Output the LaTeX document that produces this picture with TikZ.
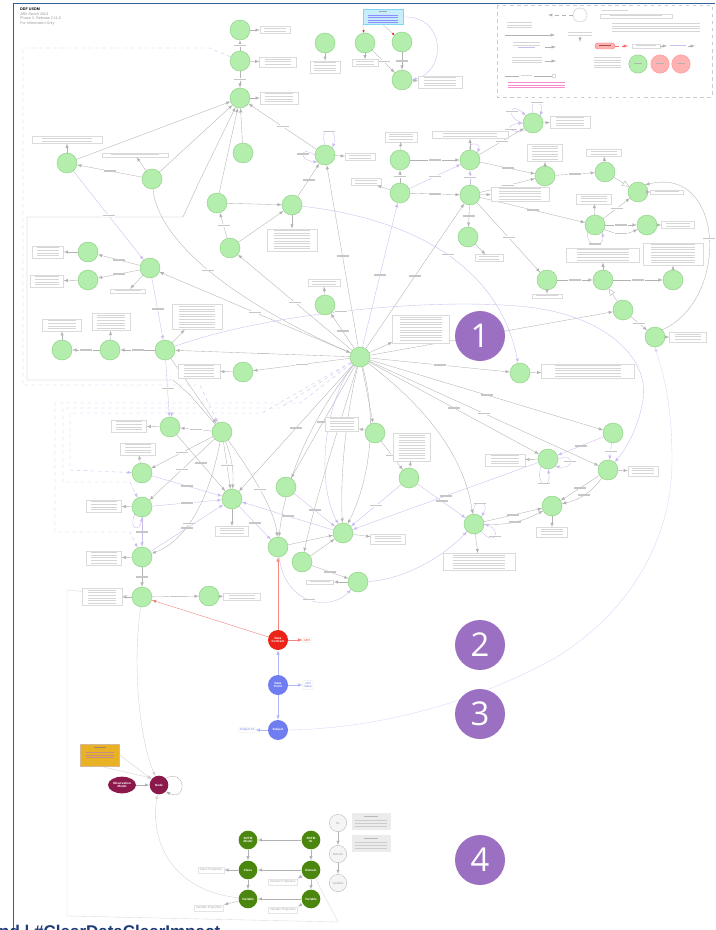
\documentclass[tikz,border=0pt]{standalone}
\usepackage{fontspec}
\setmainfont{Liberation Sans}
\newfontfamily\zahlfont{Open Sans}
\usetikzlibrary{calc,arrows,arrows.meta,shapes.geometric}

\definecolor{gruen}{RGB}{180,238,172}
\definecolor{gruenrand}{RGB}{125,200,115}
\definecolor{lilalinie}{RGB}{203,188,240}
\definecolor{zahllila}{RGB}{155,112,194}
\definecolor{rahmenblau}{RGB}{50,95,150}
\definecolor{vertragrot}{RGB}{235,35,25}
\definecolor{punktblau}{RGB}{112,125,240}
\definecolor{weinrot}{RGB}{140,25,75}
\definecolor{sdtmgruen}{RGB}{75,135,15}
\definecolor{gelb}{RGB}{233,177,36}
\definecolor{slogan}{RGB}{30,60,120}

\pgfdeclarelayer{hinten}
\pgfsetlayers{hinten,main}

% Notiz: Name, x, y, Breite, Zeilen
\newcommand{\notiz}[5]{%
  \node[notiz, minimum width=#4*0.03cm, minimum height={(#5*2.6+1.6)*0.03cm}] (#1) at (#2,#3) {};
  \foreach \zz in {1,...,#5}
    \fill[gray!32] ($(#1.north)+(-#4*0.36,\zz*2.6-1.0)$) rectangle ++(#4*0.72,1);
}

\begin{document}
\begin{tikzpicture}
		[
		x=0.03cm, y=-0.03cm, >=latex,
		%Voreinstellungen
		knoten/.style={circle, draw=gruenrand, fill=gruen, line width=0.3pt, minimum size=0.6cm, inner sep=0pt},
		notiz/.style={draw=gray!28, fill=white, line width=0.2pt, inner sep=0pt},
		etikett/.style={fill=white, inner sep=0.5pt, execute at begin node={\textcolor{gray!45}{\rule{0.36cm}{0.035cm}}}},
		kante/.style={draw=gray!60, line width=0.3pt, -latex},
		lila/.style={draw=lilalinie, line width=0.3pt, -latex},
		rotlinie/.style={draw=vertragrot!55, line width=0.35pt, -latex},
		blaulinie/.style={draw=punktblau!55, line width=0.35pt, -latex},
		zahl/.style={circle, fill=zahllila, text=white, minimum size=1.5cm, inner sep=0pt, font=\zahlfont\fontsize{28}{28}\selectfont},
		farbig/.style={circle, minimum size=0.6cm, inner sep=0pt, text=white, align=center, font=\fontsize{2.6}{3.1}\selectfont\bfseries},
		wert/.style={draw=gray!15, fill=white, rounded corners=1pt, inner sep=1.2pt, align=center, font=\fontsize{2.6}{3.1}\selectfont},
		eig/.style={draw=gray!20, fill=white, inner sep=1.5pt, text=gray!70, font=\fontsize{2.6}{3.1}\selectfont},
		grauk/.style={circle, draw=gray!50, fill=gray!8, line width=0.4pt, minimum size=0.52cm, inner sep=0pt, text=gray!75, font=\fontsize{2.6}{3.1}\selectfont}
		]
		
		\useasboundingbox (0,0) rectangle (715,930);
		
		%Kopf
		\node[anchor=north west, align=left, inner sep=0pt, text=gray!80, font=\fontsize{3.2}{3.9}\selectfont] (kopf) at (20,8) {{\color{black}\textbf{DDF USDM}}\\28th March 2024\\Phase 3, Release 2.11.0\\For Information Only};
		
		%Modellknoten
		\foreach \n/\x/\y in {t1/240/30, t2/240/61, t3/240/98, t4/325/43, t5/365/43, t6/402/42, t7/402/80,
			a1/67/163, a2/152/179, a3/243/153, a4/325/155, a5/217/203, a6/292/205, a7/230/248,
			b1/88/252, b2/150/268, b3/88/280, b4/62/350, b5/110/350, b6/165/350, b7/243/372, b8/325/305,
			h/360/357,
			c1/400/160, c2/470/160, c3/533/123, c4/545/176, c5/605/172, c6/638/192, c7/400/193, c8/470/195,
			c9/468/237, c10/595/225, c11/647/225, c12/547/280, c13/603/280, c14/673/280, c15/623/310, c16/655/337,
			d1/520/373,
			e1/222/432, e2/170/427, e3/142/473, e4/142/507, e5/232/499, e6/286/487, e7/142/557, e8/278/547,
			e9/302/562, e10/343/533, e11/358/582, e12/142/597, e13/209/596,
			f1/375/433, f2/409/478, f3/548/459, f4/613/433, f5/608/470, f6/552/506, f7/474/524}
		\node[knoten] (\n) at (\x,\y) {};
		
		%Notizen mit Pfeil
		\foreach \k/\x/\y/\w/\z in {t1/275/30/30/2, t2/278/62/37/3, t3/279/98/38/4, t4/325/67/30/4, t5/365/63/26/2, t7/440/82/44/4,
			a1/67/140/70/2, a2/135/155/66/1, a4/360/157/30/2, a6/292/240/50/8,
			b1/48/252/31/4, b3/47/281/33/4, b2/128/291/35/1, b4/62/325/39/4, b5/111/322/38/6, b6/197/317/50/9, b7/199/371/42/5, b8/324/283/32/2,
			h/421/329/57/10,
			c1/401/137/32/3, c2/470/135/76/2, c3/570/122/40/4, c4/545/153/35/6, c5/604/153/35/2, c6/667/192/33/1, c7/366/182/30/2,
			c8/520/194/58/5, c9/489/258/28/2, c10/594/199/35/3, c11/678/225/33/2, c12/547/296/30/1, c13/603/255/73/5, c14/673/254/60/8,
			c16/688/337/37/3, d1/588/371/93/5,
			e2/129/426/35/4, e3/138/449/35/4, e4/104/506/35/4, e7/104/558/35/5, e12/102/597/40/6, e13/242/597/37/2, e5/232/531/33/3,
			e10/388/539/35/3, e11/320/582/27/1,
			f1/342/424/33/5, f2/412/447/37/10, f3/505/460/40/4, f5/643/471/30/3, f6/552/532/31/3, f7/479/562/72/6}
		{\notiz{n\k}{\x}{\y}{\w}{\z}
			\draw[kante] (\k) -- (n\k);}
		
		%Hinweis oben (cyan)
		\node[draw=cyan!50, fill=cyan!22, minimum width=1.2cm, minimum height=0.45cm, inner sep=0pt] (cy) at (383,17) {};
		\fill[gray!70] (379,11) rectangle ++(8,1);
		\foreach \zz in {1,...,4}
		\fill[blue!45] (368,12+\zz*2.6) rectangle ++(30,1);
		
		%Legende
		\draw[gray!40, dashed, line width=0.3pt] (497,5) rectangle (712,97);
		\node[circle, draw=gray!50, fill=white, line width=0.3pt, minimum size=0.42cm, inner sep=0pt] (lk) at (580,15) {};
		\draw[gray!60, dashed, line width=0.3pt, -latex] (lk) -- (548,15);
		\fill[gray!32] (602,10) rectangle ++(26,1);
		\notiz{lb1}{636}{16}{72}{1}
		\foreach \yy in {32,34.6}
		\fill[gray!32] (568,\yy) rectangle ++(24,1);
		\draw[gray!60, line width=0.3pt, -latex] (580,37) -- (580,42);
		\foreach \yy in {23,25.6,28.2,30.8}
		\fill[gray!32] (612,\yy) rectangle ++(88,1);
		\foreach \yy in {22,24.6,27.2}
		\fill[gray!32] (507,\yy) rectangle ++(25,1);
		\draw[gray!60, line width=0.3pt, -latex] (505,35) -- (555,35);
		\foreach \yy in {42,44.6}
		\fill[gray!32] (513,\yy) rectangle ++(27,1);
		\fill[lilalinie] (518,47.2) rectangle ++(17,1);
		\draw[gray!60, line width=0.3pt, -latex] (545,47) -- (556,47);
		\foreach \yy in {57,59.6,62.2}
		\fill[gray!32] (512,\yy) rectangle ++(30,1);
		\draw[gray!60, line width=0.3pt, -latex] (545,61) -- (556,61);
		\draw[gray!60, line width=0.3pt] (505,76) -- (552,76);
		\draw[gray!60, line width=0.3pt, fill=white] (554,76) circle (2);
		\fill[white] (519,74.5) rectangle ++(15,3);
		\fill[gray!32] (521,75.5) rectangle ++(11,1);
		\foreach \yy in {82,84.6,87.2}
		\fill[magenta!45] (508,\yy) rectangle ++(57,1);
		\node[draw=red!50, fill=red!30, rounded corners=2.5pt, minimum width=0.6cm, minimum height=0.18cm, inner sep=0pt] (lp) at (605,46) {};
		\fill[red!50!black!70] (599,45.5) rectangle ++(12,1);
		\draw[red!60, dashed, line width=0.3pt, -latex] (lp) -- (628,46);
		\notiz{lb3}{646}{46}{28}{1}
		\draw[gray!60, line width=0.3pt, -latex] (lb3) -- (667,46);
		\fill[lilalinie] (670,45.5) rectangle ++(16,1);
		\draw[gray!60, line width=0.3pt, -latex] (688,46) -- (695,46);
		\node[knoten, minimum size=0.55cm] (lg) at (638,64) {};
		\node[circle, draw=red!40, fill=red!30, minimum size=0.55cm, inner sep=0pt] (lr1) at (660,64) {};
		\node[circle, draw=red!40, fill=red!30, minimum size=0.55cm, inner sep=0pt] (lr2) at (681,64) {};
		\foreach \k in {lg,lr1,lr2}
		\fill[gray!60] ($(\k)+(-4,-0.5)$) rectangle ++(8,1);
		\foreach \yy in {57,59.6,62.2,64.8,67.4}
		\fill[gray!32] (594,\yy) rectangle ++(27,1);
		
		%Abschnitt 2 und 3
		\node[farbig, fill=vertragrot] (dc) at (278,640) {Data\\Contract};
		\node[farbig, fill=punktblau] (dp) at (278,685) {Data\\Point};
		\node[farbig, fill=punktblau] (su) at (278,730) {Subject};
		\node[wert, text=vertragrot] (uri) at (307,640) {URI};
		\node[wert, text=punktblau] (uriv) at (308,685) {URI\\Value};
		\node[wert, text=punktblau] (sid) at (247,730) {Subject Id};
		
		%Abschnitt 4
		\node[draw=orange!60!black!40, fill=gelb, minimum width=1.17cm, minimum height=0.66cm, inner sep=0pt] (gb) at (100,755) {};
		\fill[orange!40!black!60] (94,747) rectangle ++(12,1);
		\foreach \yy in {752,754.6,757.2}
		\fill[red!50!black!45] (86,\yy) rectangle ++(28,1);
		\node[farbig, ellipse, fill=weinrot, minimum width=0.84cm, minimum height=0.5cm] (om) at (122,785) {Observation\\Model};
		\node[farbig, fill=weinrot, minimum size=0.56cm] (nd) at (159,785) {Node};
		\node[farbig, fill=sdtmgruen, minimum size=0.56cm] (sm) at (248,840) {SDTM\\Model};
		\node[farbig, fill=sdtmgruen, minimum size=0.56cm] (sig) at (311,840) {SDTM\\IG};
		\node[farbig, fill=sdtmgruen, minimum size=0.56cm] (cl) at (248,870) {Class};
		\node[farbig, fill=sdtmgruen, minimum size=0.56cm] (do) at (311,870) {Domain};
		\node[farbig, fill=sdtmgruen, minimum size=0.56cm] (va) at (248,899) {Variable};
		\node[farbig, fill=sdtmgruen, minimum size=0.56cm] (vb) at (311,899) {Variable};
		\node[eig] (clp) at (211,870) {Class Properties};
		\node[eig] (dop) at (283,882) {Domain Properties};
		\node[eig] (vap) at (209,908) {Variable Properties};
		\node[eig] (vbp) at (283,910) {Variable Properties};
		\node[grauk] (ig) at (338,823) {IG};
		\node[grauk] (gd) at (338,854) {Domain};
		\node[grauk] (gv) at (338,883) {Variable};
		\foreach \k/\yy in {gk1/821.5, gk2/843.5}
		{\node[fill=gray!15, minimum width=1.17cm, minimum height=0.51cm, inner sep=0pt] (\k) at (371,\yy) {};
			\fill[gray!55] ($(\k.north)+(-7,3)$) rectangle ++(14,1);
			\foreach \zz in {1,2,3}
			\fill[gray!40] ($(\k.north)+(-16,5+\zz*2.6)$) rectangle ++(32,1);}
		
		\begin{pgfonlayer}{hinten}
		\fill[white] (0,0) rectangle (715,930);
		
		%Rahmen
		\draw[rahmenblau, line width=0.8pt] (715,3) -- (13,3) -- (13,930);
		
		%oben
		\draw[kante] (t2) -- node[etikett]{} (t1);
		\draw[kante] (t2) -- node[etikett]{} (t3);
		\draw[gray!50, line width=0.3pt, -{Latex[red,length=2.2pt,width=1.8pt]}] (cy.south west) -- (t5);
		\draw[gray!50, line width=0.3pt, -{Latex[red,length=2.2pt,width=1.8pt]}] (cy.south) -- (t6);
		\draw[kante] (t5) -- node[etikett]{} (t7);
		\draw[kante] (t6) -- node[etikett]{} (t7);
		\draw[lila] (cy.east) .. controls (445,15) and (448,70) .. (t7.east);
		
		%Rahmenlinien links
		\draw[kante] (e1) -- (190,395) -- (173,380) -- (27,380) -- (27,217) -- (183,217) -- (200,180) -- (t3);
		\draw[lila, dashed] (t2) -- (210,48) -- (23,48) -- (23,385) -- (200,385) -- (e1);
		
		%links oben
		\draw[kante] (a2) -- node[etikett]{} (a1);
		\draw[kante] (a1) -- (t3);
		\draw[kante] (a2) -- (t3);
		\draw[kante] (a3) -- (t3);
		\draw[kante] (a4) -- node[etikett]{} (t3);
		\draw[kante] (a5) -- (t3);
		\draw[kante] (a5) -- (a6);
		\draw[kante] (a7) -- node[etikett]{} (a5);
		\draw[kante] (a7) -- (a6);
		\draw[kante] (a6) -- node[etikett]{} (a4);
		\draw[lila] (a4.north) .. controls (318,125) and (340,128) .. node[etikett]{} (a4.north east);
		\draw[lila] (a4.west) .. controls (300,145) and (298,160) .. node[etikett]{} (a4.south west);
		\draw[lila] (a1) -- node[etikett]{} (b2);
		\draw[kante] (a2) .. controls (158,240) and (230,300) .. node[etikett]{} (h);
		
		%links mitte
		\draw[kante] (b2) -- node[etikett]{} (b1);
		\draw[kante] (b2) -- node[etikett]{} (b3);
		\draw[lila] (b2) -- node[etikett]{} (b6);
		\draw[kante] (b6) -- node[etikett]{} (b5);
		\draw[kante] (b5) -- node[etikett]{} (b4);
		\draw[lila] (b6) -- node[etikett]{} (e2);
		\draw[kante] (b6) -- (e1);
		
		%Nabe
		\foreach \z in {a4,a7,b2,b6,b7,b8}
		\draw[kante] (h) -- node[etikett]{} (\z);
		\draw[kante] (h) -- node[etikett]{} (c8);
		\draw[lila] (h) -- node[etikett]{} (c7);
		\draw[kante] (h) -- node[etikett]{} (d1);
		\draw[kante] (h) -- node[etikett]{} (c15);
		\draw[kante] (h) -- (f1);
		\draw[kante] (h) .. controls (430,410) and (465,460) .. (f7);
		\foreach \z in {f3,f4,f5,e5,e6}
		\draw[kante] (h) -- node[etikett]{} (\z);
		\draw[kante] (h) .. controls (310,420) and (285,480) .. (e8);
		\draw[kante] (h) .. controls (345,420) and (340,480) .. (e10);
		\draw[lila] (h) .. controls (325,400) and (315,480) .. (e10);
		\draw[kante] (h) .. controls (380,430) and (365,490) .. (e10);
		\draw[kante] (h) .. controls (335,440) and (315,500) .. (e9);
		\draw[lila, dashed] (h) -- (300,403) -- (55,403) -- (55,532) -- (130,532) -- (e7);
		\draw[lila, dashed] (h) -- (280,408) -- (63,408) -- (63,482) -- (130,482) -- (e4);
		\draw[lila, dashed] (h) -- (262,413) -- (70,413) -- (70,470) -- (e3);
		\draw[lila, dashed] (172,413) -- (e2);
		
		%grosse Boegen
		\draw[lila] (b6) .. controls (260,315) and (420,298) .. node[etikett]{} (517,306) .. controls (600,312) and (650,355) .. (643,400) .. controls (638,430) and (625,450) .. (f5);
		\draw[lila, draw=punktblau!30] (su.east) .. controls (400,728) and (500,690) .. (560,655) .. controls (630,610) and (672,540) .. (672,460) .. controls (672,400) and (662,370) .. (c16.south);
		\draw[lila] (a6) .. controls (420,220) and (500,270) .. node[etikett]{} (d1);
		
		%rechts oben
		\draw[kante] (c1) -- node[etikett]{} (c2);
		\draw[kante] (c7) -- node[etikett]{} (c1);
		\draw[kante] (c7) -- node[etikett]{} (c8);
		\draw[lila] (c7) -- node[etikett]{} (c2);
		\draw[lila] (c8) -- node[etikett]{} (c2);
		\draw[kante] (c2) -- node[etikett]{} (c3);
		\draw[kante] (c2) -- node[etikett]{} (c4);
		\draw[kante] (c8) -- node[etikett]{} (c4);
		\draw[kante] (c4) -- node[etikett]{} (c5);
		\draw[kante, -open triangle 45] (c5) -- (c6);
		\draw[lila] (c3.west) .. controls (505,118) and (510,100) .. node[etikett]{} (c3.north west);
		\draw[lila] (c3.north) .. controls (528,98) and (545,100) .. node[etikett]{} (c3.north east);
		\draw[lila] (c3.south west) .. controls (510,135) and (503,125) .. node[etikett]{} (c3.west);
		\draw[lila] (c2.north) .. controls (466,142) and (482,142) .. (c2.north east);
		\draw[kante] (c8) -- node[etikett]{} (c9);
		\draw[kante] (c8) -- node[etikett]{} (c10);
		\draw[kante] (c8) -- node[etikett]{} (c12);
		\draw[kante] (c10) -- node[etikett]{} (c6);
		\draw[kante] (c10) -- node[etikett]{} (c11);
		\draw[kante] (c10) to[bend right=25] node[etikett]{} (c11);
		\draw[lila] (c10.south west) .. controls (585,248) and (605,248) .. node[etikett]{} (c10.south east);
		\draw[kante] (c12) -- node[etikett]{} (c13);
		\draw[kante] (c13) -- node[etikett]{} (c14);
		\draw[kante, -open triangle 45] (c15) -- (c13);
		\draw[kante] (c15) -- node[etikett]{} (c16);
		\draw[kante] (c16.north east) .. controls (730,300) and (725,165) .. node[etikett]{} (c6.north east);
		
		%rechts unten
		\draw[kante] (f1) -- node[etikett]{} (f2);
		\draw[lila] (f2) -- node[etikett]{} (f7);
		\draw[lila] (f2) -- node[etikett]{} (e10);
		\draw[lila] (f3) -- node[etikett]{} (e10);
		\draw[lila] (f4) -- node[etikett]{} (f3);
		\draw[lila] (f4) -- node[etikett]{} (f5);
		\draw[kante] (f5) -- node[etikett]{} (f6);
		\draw[kante] (f5) to[bend left=20] node[etikett]{} (f6);
		\draw[kante] (f7) -- node[etikett]{} (f6);
		\draw[kante] (f7) to[bend right=15] node[etikett]{} (f6);
		\draw[lila] (f3.east) .. controls (575,452) and (575,470) .. node[etikett]{} (f3.south east);
		\draw[lila] (f3.south west) .. controls (535,488) and (552,490) .. node[etikett]{} (f3.south);
		\draw[lila] (f7.north) .. controls (470,498) and (492,500) .. node[etikett]{} (f7.north east);
		\draw[lila] (f7.south east) .. controls (495,548) and (502,530) .. node[etikett]{} (f7.east);
		
		%links unten
		\draw[kante] (e1) -- node[etikett]{} (e2);
		\draw[kante] (e1) -- node[etikett]{} (e3);
		\draw[kante] (e1) -- node[etikett]{} (e4);
		\draw[kante] (e1) -- node[etikett]{} (e5);
		\draw[kante] (e1) to[bend left=12] (e5);
		\draw[kante] (e1) .. controls (250,470) and (275,510) .. node[etikett]{} (e8);
		\draw[kante] (e1) .. controls (205,520) and (175,545) .. node[etikett]{} (e7);
		\draw[kante] (e2) -- node[etikett]{} (e5);
		\draw[lila] (e3) -- node[etikett]{} (e5);
		\draw[lila] (e4) -- node[etikett]{} (e5);
		\draw[lila] (e7) -- node[etikett]{} (e5);
		\draw[lila] (e5) -- node[etikett]{} (e8);
		\draw[lila] (e10) -- node[etikett]{} (e5);
		\draw[lila] (e4) -- node[etikett]{} (e7);
		\draw[kante] (e7) -- node[etikett]{} (e12);
		\draw[kante] (e12) -- node[etikett]{} (e13);
		\draw[lila] (e4.south west) .. controls (128,530) and (140,532) .. (e4.south);
		\draw[lila] (e6) -- node[etikett]{} (e10);
		\draw[kante] (e8) -- (e10);
		\draw[kante] (e9) -- (e10);
		\draw[kante] (e9) -- node[etikett]{} (e11);
		\draw[lila] (e8) .. controls (285,605) and (330,612) .. node[etikett]{} (e11);
		\draw[lila] (e11) .. controls (400,580) and (440,560) .. (f7);
		
		%Abschnitt 2 und 3
		\draw[rotlinie] (dc) -- (e8);
		\draw[rotlinie] (dc) -- (e12);
		\draw[rotlinie] (dc) -- (uri);
		\draw[blaulinie] (dp) -- (dc);
		\draw[blaulinie] (dp) -- (su);
		\draw[blaulinie] (dp) -- (uriv);
		\draw[blaulinie] (su) -- (sid);
		
		%Abschnitt 4
		\draw[kante] (om) -- (nd);
		\draw[kante] (nd.north east) .. controls (186,768) and (188,802) .. (nd.south east);
		\draw[kante, draw=gray!35] (gb.east) -- (nd);
		\draw[kante, draw=gray!35] (gb.south) -- (nd.north west);
		\draw[kante, draw=gray!35] (e12) .. controls (132,670) and (140,740) .. (nd);
		\draw[kante, draw=gray!35] (va) .. controls (170,890) and (150,840) .. (nd);
		\draw[gray!30, line width=0.3pt] (e12) -- (67,590) -- (67,916) -- (338,922) -- (do);
		\draw[kante] (sig) -- (sm);
		\draw[kante] (sm) -- (cl);
		\draw[kante] (cl) -- (va);
		\draw[kante] (sig) -- (do);
		\draw[kante] (do) -- (cl);
		\draw[kante] (do) -- (vb);
		\draw[kante] (vb) -- (va);
		\draw[kante] (cl) -- (clp);
		\draw[kante] (do) -- (dop.north east);
		\draw[kante] (va) -- (vap.north east);
		\draw[kante] (vb) -- (vbp.north east);
		\draw[kante] (ig) -- (gd);
		\draw[kante] (gd) -- (gv);
		\end{pgfonlayer}
		
		%Nummern
		\foreach \n/\yy in {1/336, 2/645, 3/714, 4/860}
		\node[zahl] (z\n) at (480,\yy) {\n};
		
		%Schriftzug unten (im Original angeschnitten)
		\begin{scope}
		\clip (0,0) rectangle (715,930);
		\node[anchor=base west, inner sep=0pt, text=slogan, font=\bfseries\fontsize{14.5}{14.5}\selectfont] (spruch) at (-1,937) {nd | \#ClearDataClearImpact};
		\end{scope}
		
	\end{tikzpicture}
\end{document}
